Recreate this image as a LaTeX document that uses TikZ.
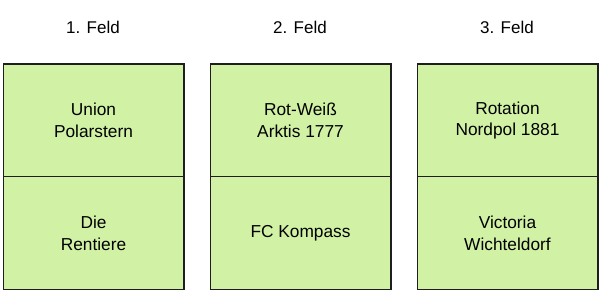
\documentclass[tikz,border=0pt]{standalone}
\usepackage{fontspec}
\setmainfont{Liberation Sans}
\definecolor{cellgreen}{RGB}{209,242,165}
\definecolor{cellborder}{RGB}{30,30,30}
\begin{document}
\begin{tikzpicture}[x=1pt,y=-1pt,
  cell/.style={draw=cellborder,fill=cellgreen,line width=1.5pt,minimum width=180.5pt,minimum height=112.5pt,inner sep=0pt,align=center,font=\fontsize{17.3}{21.7}\selectfont,anchor=north west},
  head/.style={font=\fontsize{17}{20}\selectfont,inner sep=0pt}]
\useasboundingbox (0,0) rectangle (600,294);
\node[head] (h1) at (93,27) {1. Feld};
\node[head] (h2) at (300,27) {2. Feld};
\node[head] (h3) at (507,27) {3. Feld};
\node[cell] (a1) at (2.5,63.5) {Union\\Polarstern};
\node[cell] (b1) at (2.5,176) {Die\\Rentiere};
\node[cell] (a2) at (209.5,63.5) {Rot-Weiß\\Arktis 1777};
\node[cell] (b2) at (209.5,176) {FC Kompass};
\node[cell] (a3) at (416.5,63.5) {Rotation\\Nordpol 1881};
\node[cell] (b3) at (416.5,176) {Victoria\\Wichteldorf};
\end{tikzpicture}
\end{document}
